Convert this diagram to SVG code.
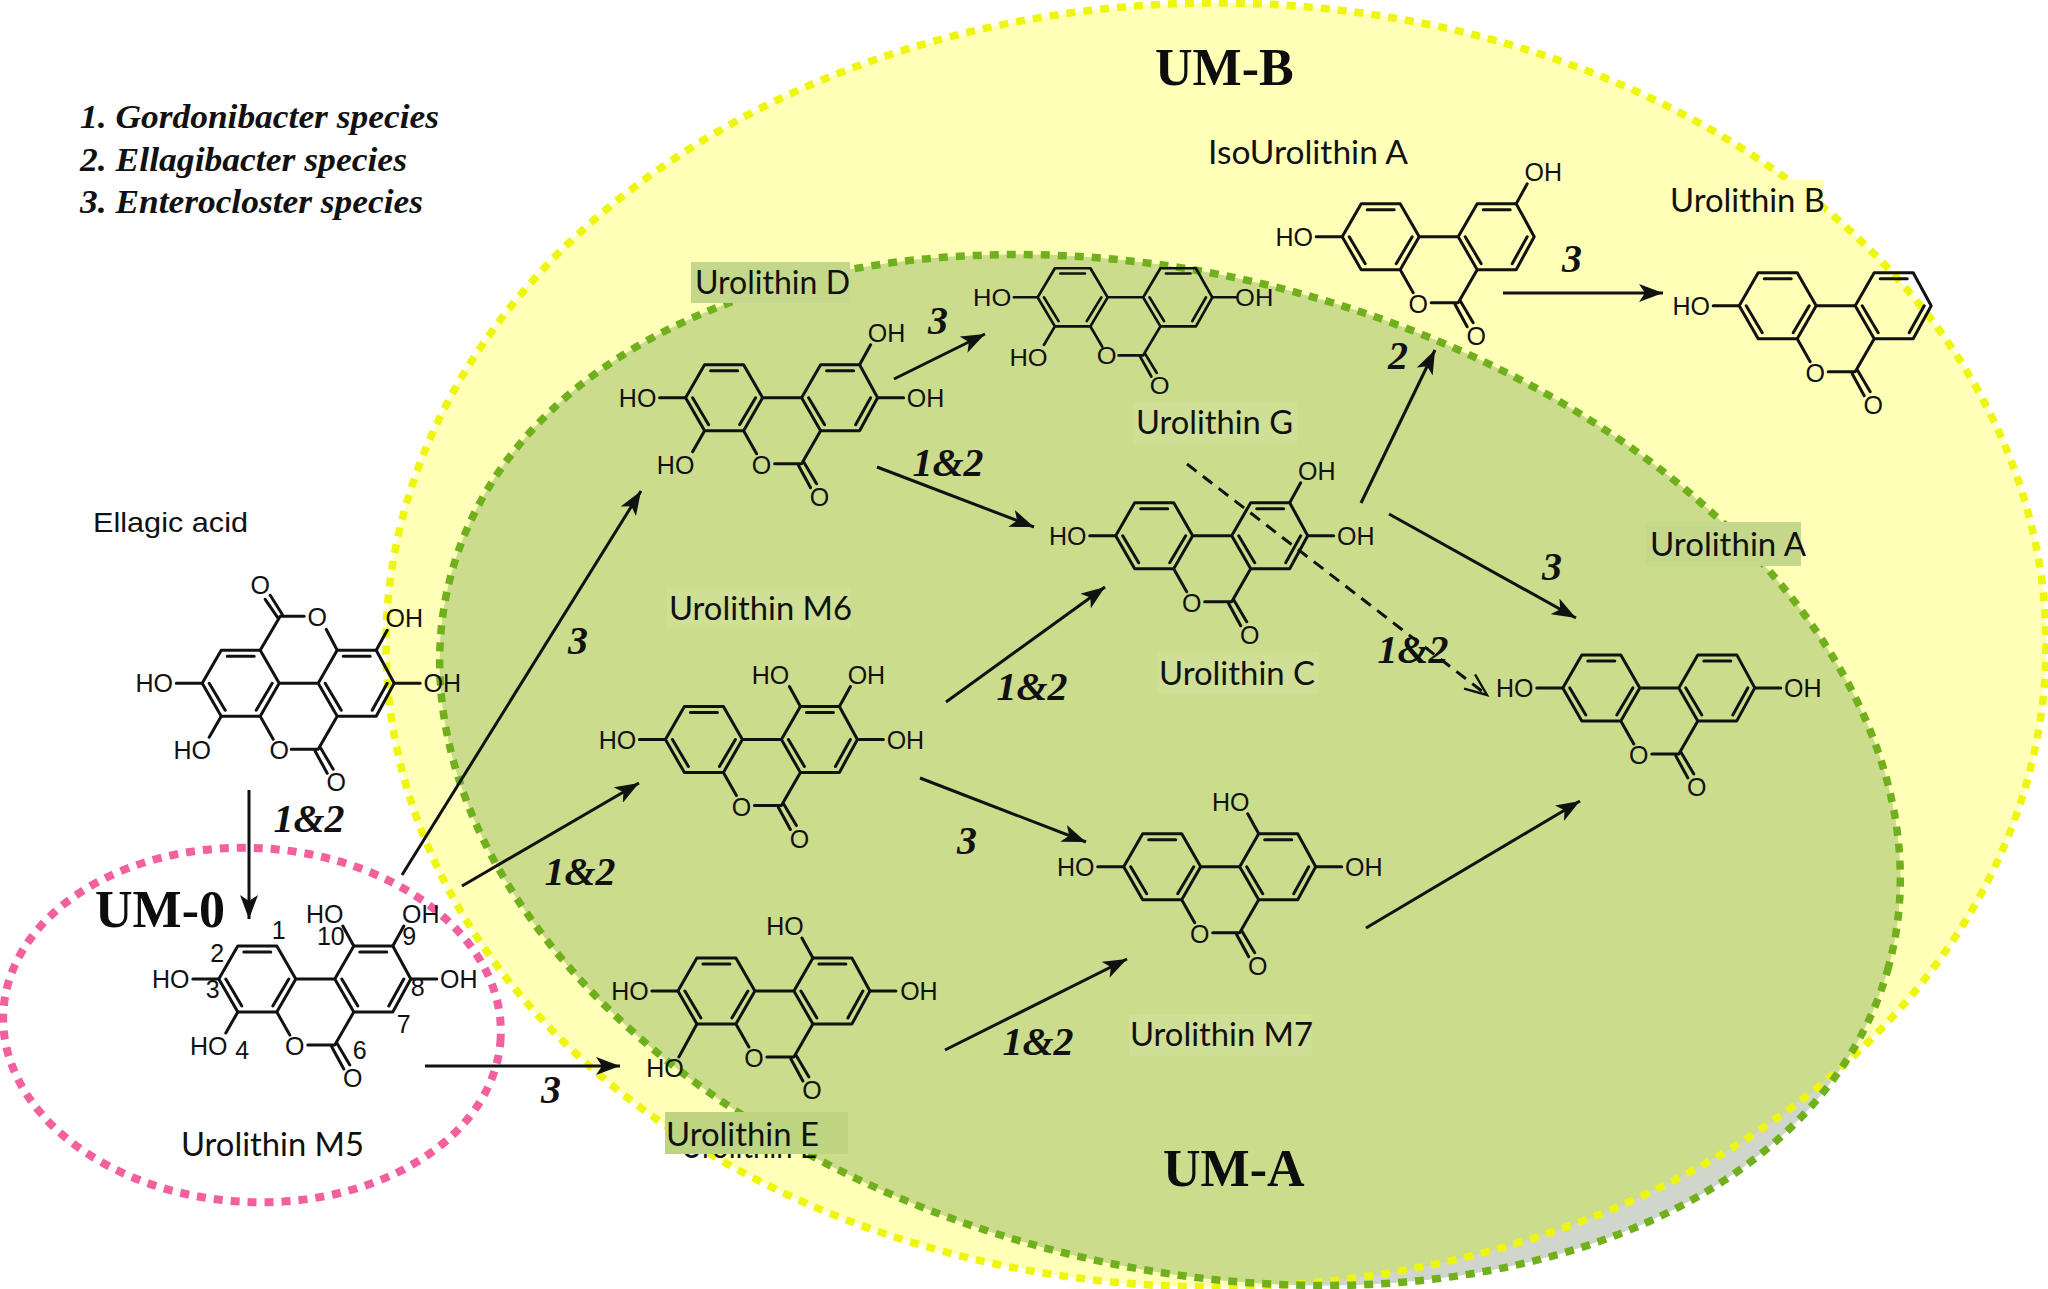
<svg xmlns="http://www.w3.org/2000/svg" xmlns:xlink="http://www.w3.org/1999/xlink" width="2048" height="1289" viewBox="0 0 2048 1289">
<style>
.b{fill:none;stroke:#111;stroke-width:3;stroke-linecap:round;stroke-linejoin:round}
.a{font-family:"Liberation Sans",Arial,sans-serif;font-size:25px;fill:#111;text-anchor:middle}
.n{font-family:Lato,"Open Sans",sans-serif;font-size:33px;fill:#111}
.u{font-family:"Liberation Serif","Times New Roman",serif;font-weight:bold;font-size:52px;fill:#0d0d0d}
.i{font-family:"Liberation Serif","Times New Roman",serif;font-weight:bold;font-style:italic;font-size:40px;fill:#111;text-anchor:middle}
.g{font-family:"Liberation Serif","Times New Roman",serif;font-weight:bold;font-style:italic;font-size:34px;fill:#111}
.c{fill:none;stroke:#111;stroke-width:3}
.r1{fill:#c4d88c}.r2{fill:#cfdf95}
</style>
<defs>
<clipPath id="inY"><ellipse cx="1216" cy="645" rx="830" ry="642"/></clipPath>
<marker id="ah" markerUnits="userSpaceOnUse" markerWidth="26" markerHeight="18" refX="24" refY="9" orient="auto"><path d="M0 0L24 9L0 18L6 9Z" fill="#111"/></marker>
<marker id="oh" markerUnits="userSpaceOnUse" markerWidth="26" markerHeight="20" refX="23" refY="10" orient="auto"><path d="M1 1L23 10L1 19" fill="none" stroke="#111" stroke-width="2.4"/></marker>
<g id="sk"><path class="b" d="M0 0L19 -33L58 -33L77 0L58 33L19 33ZM77 0L116 0L135 -33L174 -33L192 0L174 33L135 33L116 0M58 33L71 56M89 66L116 66L135 33M118 64L131 86M113 68L125 90M25 -27L52 -27M7 0L23 27M70 0L54 27M141 -27L168 -27M123 0L139 27M185 0L170 27"/></g>
</defs>
<rect width="2048" height="1289" fill="#fff"/>
<g id="regions">
<ellipse cx="1216" cy="645" rx="830" ry="642" fill="#ffffb8"/>
<ellipse cx="1170" cy="770" rx="745" ry="494" transform="rotate(15.3 1170 770)" fill="#d0d6cc"/>
<g clip-path="url(#inY)"><ellipse cx="1170" cy="770" rx="745" ry="494" transform="rotate(15.3 1170 770)" fill="#cbdc8c"/></g>
<ellipse cx="1216" cy="645" rx="830" ry="642" fill="none" stroke="#eef50f" stroke-width="7.5" stroke-dasharray="9 8"/>
<ellipse cx="1170" cy="770" rx="745" ry="494" transform="rotate(15.3 1170 770)" fill="none" stroke="#70b01c" stroke-width="7.5" stroke-dasharray="9 8"/>
<ellipse cx="252" cy="1025" rx="249" ry="177" transform="rotate(3 252 1025)" fill="none" stroke="#f2609e" stroke-width="8" stroke-dasharray="9 8"/>
</g>
<g id="legend">
<text class="g" x="80" y="128" textLength="359" lengthAdjust="spacingAndGlyphs">1. Gordonibacter species</text>
<text class="g" x="80" y="170.5" textLength="327" lengthAdjust="spacingAndGlyphs">2. Ellagibacter species</text>
<text class="g" x="80" y="212.5" textLength="343" lengthAdjust="spacingAndGlyphs">3. Enterocloster species</text>
</g>
<g id="group-labels">
<text class="u" x="1155" y="85">UM-B</text>
<text class="u" x="1163" y="1186">UM-A</text>
<text class="u" x="95" y="927">UM-0</text>
</g>
<g id="name-labels">
<text class="n" x="681" y="1158" textLength="136" lengthAdjust="spacingAndGlyphs">Urolithin E</text>
<rect x="691" y="262" width="159" height="41" class="r1"/><text class="n" x="695" y="294" textLength="155" lengthAdjust="spacingAndGlyphs">Urolithin D</text>
<rect x="1134" y="403" width="163" height="41" class="r2"/><text class="n" x="1136" y="434" textLength="157" lengthAdjust="spacingAndGlyphs">Urolithin G</text>
<rect x="667" y="588" width="183" height="40" class="r2"/><text class="n" x="669" y="620" textLength="183" lengthAdjust="spacingAndGlyphs">Urolithin M6</text>
<rect x="1157" y="652" width="162" height="41" class="r2"/><text class="n" x="1159" y="685" textLength="156" lengthAdjust="spacingAndGlyphs">Urolithin C</text>
<rect x="1646" y="522" width="155" height="44" class="r1"/><text class="n" x="1650" y="556" textLength="156" lengthAdjust="spacingAndGlyphs">Urolithin A</text>
<rect x="1668" y="180" width="156" height="43" fill="#ffffb8"/><text class="n" x="1670" y="212" textLength="155" lengthAdjust="spacingAndGlyphs">Urolithin B</text>
<rect x="665" y="1112" width="183" height="42" fill="#bdd480"/><text class="n" x="666" y="1146" textLength="153" lengthAdjust="spacingAndGlyphs">Urolithin E</text>
<rect x="1129" y="1015" width="183" height="41" class="r2"/><text class="n" x="1130" y="1046" textLength="183" lengthAdjust="spacingAndGlyphs">Urolithin M7</text>
<text class="n" x="181" y="1156" textLength="183" lengthAdjust="spacingAndGlyphs">Urolithin M5</text>
<text class="n" x="1208" y="164" textLength="200" lengthAdjust="spacingAndGlyphs">IsoUrolithin A</text>
<text class="a" style="font-size:28px;text-anchor:start" x="93" y="532" textLength="155" lengthAdjust="spacingAndGlyphs">Ellagic acid</text>
</g>
<g id="connectors">
<line class="c" x1="249" y1="790" x2="249" y2="919" marker-end="url(#ah)"/>
<line class="c" x1="402" y1="875" x2="641" y2="491" marker-end="url(#ah)"/>
<line class="c" x1="462" y1="886" x2="639" y2="783" marker-end="url(#ah)"/>
<line class="c" x1="425" y1="1066" x2="620" y2="1066" marker-end="url(#ah)"/>
<line class="c" x1="894" y1="379" x2="985" y2="334" marker-end="url(#ah)"/>
<line class="c" x1="877" y1="467" x2="1034" y2="527" marker-end="url(#ah)"/>
<line class="c" x1="946" y1="702" x2="1105" y2="587" marker-end="url(#ah)"/>
<line class="c" x1="1361" y1="503" x2="1435" y2="350" marker-end="url(#ah)"/>
<line class="c" x1="1389" y1="514" x2="1576" y2="618" marker-end="url(#ah)"/>
<line class="c" x1="1503" y1="293" x2="1663" y2="293" marker-end="url(#ah)"/>
<line class="c" x1="1187" y1="464" x2="1487" y2="695" stroke-dasharray="12 8" marker-end="url(#oh)"/>
<line class="c" x1="920" y1="778" x2="1086" y2="842" marker-end="url(#ah)"/>
<line class="c" x1="945" y1="1050" x2="1127" y2="959" marker-end="url(#ah)"/>
<line class="c" x1="1366" y1="928" x2="1580" y2="801" marker-end="url(#ah)"/>
</g>
<g id="connector-labels">
<text class="i" x="309" y="832">1&amp;2</text>
<text class="i" x="580" y="885">1&amp;2</text>
<text class="i" x="578" y="654">3</text>
<text class="i" x="551" y="1103">3</text>
<text class="i" x="938" y="334">3</text>
<text class="i" x="948" y="476">1&amp;2</text>
<text class="i" x="1032" y="700">1&amp;2</text>
<text class="i" x="1398" y="369">2</text>
<text class="i" x="1572" y="272">3</text>
<text class="i" x="1552" y="580">3</text>
<text class="i" x="1413" y="663">1&amp;2</text>
<text class="i" x="967" y="854">3</text>
<text class="i" x="1038" y="1055">1&amp;2</text>
</g>
<g id="ellagic-acid" transform="translate(202.2 683.3)">
<use href="#sk"/>
<path class="b" d="M58 -33L78 -67L102 -67M124 -54L135 -33M80 -69L68 -88M76 -65L63 -84M0 0L-26 0M19 33L7 54M174 -33L185 -53M192 0L218 0"/>
<text class="a" x="115" y="-57">O</text><text class="a" x="58" y="-89">O</text><text class="a" x="77" y="76">O</text><text class="a" x="134" y="108">O</text>
<text class="a" x="-48" y="9">HO</text><text class="a" x="-10" y="76">HO</text><text class="a" x="202" y="-56">OH</text><text class="a" x="240" y="9">OH</text>
</g>
<g id="urolithin-m5" transform="translate(218.8 979)">
<use href="#sk"/>
<path class="b" d="M0 0L-26 0M19 33L7 54M135 -33L124 -53M174 -33L185 -53M192 0L218 0"/>
<text class="a" x="76" y="76">O</text><text class="a" x="134" y="108">O</text>
<text class="a" x="-48" y="9">HO</text><text class="a" x="-10" y="76">HO</text><text class="a" x="106" y="-56">HO</text><text class="a" x="202" y="-56">OH</text><text class="a" x="240" y="9">OH</text>
<text class="a" x="60" y="-40">1</text><text class="a" x="-1.5" y="-17">2</text><text class="a" x="-6" y="18.5">3</text><text class="a" x="23.5" y="80">4</text><text class="a" x="141" y="80">6</text><text class="a" x="185" y="53.5">7</text><text class="a" x="199" y="16.5">8</text><text class="a" x="190.5" y="-34">9</text><text class="a" x="112" y="-34">10</text>
</g>
<g id="urolithin-d" transform="translate(685.6 397.7)">
<use href="#sk"/>
<path class="b" d="M0 0L-26 0M19 33L7 54M174 -33L185 -53M192 0L218 0"/>
<text class="a" x="76" y="76">O</text><text class="a" x="134" y="108">O</text>
<text class="a" x="-48" y="9">HO</text><text class="a" x="-10" y="76">HO</text><text class="a" x="201" y="-56">OH</text><text class="a" x="240" y="9">OH</text>
</g>
<g id="urolithin-g" transform="translate(1037.6 297.3) scale(.91 .88)">
<use href="#sk"/>
<path class="b" d="M0 0L-26 0M19 33L7 54M192 0L218 0"/>
<text class="a" style="font-size:28px" x="76" y="76">O</text><text class="a" style="font-size:28px" x="134" y="110">O</text>
<text class="a" style="font-size:28px" x="-50" y="10">HO</text><text class="a" style="font-size:28px" x="-10" y="78">HO</text><text class="a" style="font-size:28px" x="238" y="10">OH</text>
</g>
<g id="urolithin-c" transform="translate(1115.7 535.7)">
<use href="#sk"/>
<path class="b" d="M0 0L-26 0M174 -33L185 -53M192 0L218 0"/>
<text class="a" x="76" y="76">O</text><text class="a" x="134" y="108">O</text>
<text class="a" x="-48" y="9">HO</text><text class="a" x="201" y="-56">OH</text><text class="a" x="240" y="9">OH</text>
</g>
<g id="urolithin-m6" transform="translate(665.4 739.5)">
<use href="#sk"/>
<path class="b" d="M0 0L-26 0M135 -33L124 -53M174 -33L185 -53M192 0L218 0"/>
<text class="a" x="76" y="76">O</text><text class="a" x="134" y="108">O</text>
<text class="a" x="-48" y="9">HO</text><text class="a" x="105" y="-56">HO</text><text class="a" x="201" y="-56">OH</text><text class="a" x="240" y="9">OH</text>
</g>
<g id="urolithin-e" transform="translate(677.9 991)">
<use href="#sk"/>
<path class="b" d="M0 0L-26 0M19 33L1 66M135 -33L124 -53M192 0L218 0"/>
<text class="a" x="76" y="76">O</text><text class="a" x="134" y="108">O</text>
<text class="a" x="-48" y="9">HO</text><text class="a" x="-13" y="86">HO</text><text class="a" x="107" y="-56">HO</text><text class="a" x="241" y="9">OH</text>
</g>
<g id="urolithin-m7" transform="translate(1123.7 866.7)">
<use href="#sk"/>
<path class="b" d="M0 0L-26 0M135 -33L124 -53M192 0L218 0"/>
<text class="a" x="76" y="76">O</text><text class="a" x="134" y="108">O</text>
<text class="a" x="-48" y="9">HO</text><text class="a" x="107" y="-56">HO</text><text class="a" x="240" y="9">OH</text>
</g>
<g id="urolithin-a" transform="translate(1562.8 687.9)">
<use href="#sk"/>
<path class="b" d="M0 0L-26 0M192 0L218 0"/>
<text class="a" x="76" y="76">O</text><text class="a" x="134" y="108">O</text>
<text class="a" x="-48" y="9">HO</text><text class="a" x="240" y="9">OH</text>
</g>
<g id="isourolithin-a" transform="translate(1342.2 236.7)">
<use href="#sk"/>
<path class="b" d="M0 0L-26 0M174 -33L185 -53"/>
<text class="a" x="76" y="76">O</text><text class="a" x="134" y="108">O</text>
<text class="a" x="-48" y="9">HO</text><text class="a" x="201" y="-56">OH</text>
</g>
<g id="urolithin-b" transform="translate(1739.2 305.7)">
<use href="#sk"/>
<path class="b" d="M0 0L-26 0"/>
<text class="a" x="76" y="76">O</text><text class="a" x="134" y="108">O</text>
<text class="a" x="-48" y="9">HO</text>
</g>
</svg>
